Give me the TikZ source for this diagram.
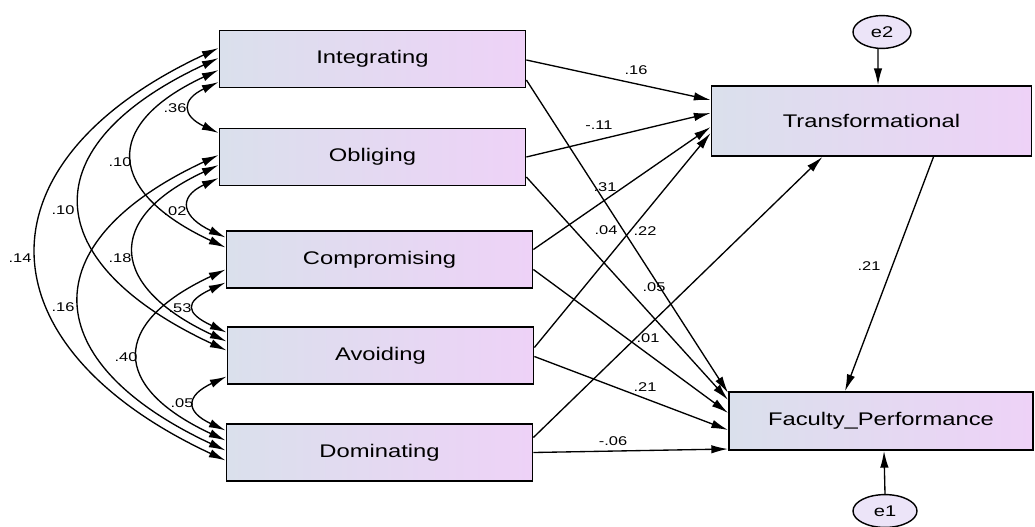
\documentclass[tikz,border=0pt]{standalone}
\usepackage{fontspec}
\setmainfont{Liberation Sans}[FakeStretch=1.3]
\usetikzlibrary{arrows.meta,shapes.geometric}
\definecolor{boxleft}{RGB}{218,224,236}
\definecolor{boxright}{RGB}{238,210,247}
\definecolor{errfill}{RGB}{236,228,248}

\begin{document}
\begin{tikzpicture}[x=0.025cm,y=-0.025cm,
    obsvar/.style={draw, line width=1.2pt, left color=boxleft, right color=boxright,
      minimum width=7.65cm, minimum height=1.42cm, inner sep=0pt,
      font=\fontsize{13}{15}\selectfont},
    err/.style={draw, ellipse, line width=1pt, fill=errfill, minimum width=1.45cm,
      minimum height=0.82cm, inner sep=0pt, font=\fontsize{11}{13}\selectfont},
    reg/.style={line width=0.95pt, -{Latex[length=4.2mm,width=2.1mm]}},
    cov/.style={line width=0.95pt,
      {Latex[length=4.2mm,width=2.1mm]}-{Latex[length=4.2mm,width=2.1mm]},
      out=205, in=155, looseness=#1},
    wt/.style={inner sep=0pt, font=\fontsize{9}{10}\selectfont}]
  \useasboundingbox (0,0) rectangle (1035,527);

  % Conflict styles (left column)
  \node[obsvar] (integ) at (372.5,59) {Integrating};
  \node[obsvar] (oblig) at (372.5,157) {Obliging};
  \node[obsvar] (compr) at (379.5,259.5) {Compromising};
  \node[obsvar] (avoid) at (380.5,355.5) {Avoiding};
  \node[obsvar] (domin) at (379.5,452.5) {Dominating};

  % Mediator, outcome and errors
  \node[obsvar, minimum width=8cm, minimum height=1.75cm] (trans) at (871.5,121) {Transformational};
  \node[obsvar, minimum width=7.6cm, minimum height=1.45cm] (facul) at (881,421) {Faculty\_Performance};
  \node[err] (e2) at (882,32) {e2};
  \node[err, minimum width=1.6cm] (e1) at (885,511) {e1};

  % Covariances
  \draw[cov=2.06] ([shift={(0,23)}]integ.west) to ([shift={(0,-24)}]oblig.west);
  \draw[cov=1.88] ([shift={(0,11)}]integ.west) to ([shift={(0,-12)}]compr.west);
  \draw[cov=1.82] ([shift={(0,-1)}]integ.west) to ([shift={(0,-5)}]avoid.west);
  \draw[cov=1.68] ([shift={(0,-11)}]integ.west) to ([shift={(0,8)}]domin.west);
  \draw[cov=2.0]  ([shift={(0,21)}]oblig.west) to ([shift={(0,-22)}]compr.west);
  \draw[cov=1.86] ([shift={(0,8)}]oblig.west) to ([shift={(0,-14)}]avoid.west);
  \draw[cov=1.8]  ([shift={(0,-2)}]oblig.west) to ([shift={(0,-2)}]domin.west);
  \draw[cov=2.34] ([shift={(0,23)}]compr.west) to ([shift={(0,-23)}]avoid.west);
  \draw[cov=1.91] ([shift={(0,10)}]compr.west) to ([shift={(0,-12)}]domin.west);
  \draw[cov=2.13] ([shift={(0,21)}]avoid.west) to ([shift={(0,-22)}]domin.west);

  % Paths to Transformational
  \draw[reg] ([shift={(0,1)}]integ.east) -- ([shift={(0,-21)}]trans.west);
  \draw[reg] (oblig.east) -- ([shift={(0,-8)}]trans.west);
  \draw[reg] ([shift={(0,-10)}]compr.east) -- ([shift={(0,6)}]trans.west);
  \draw[reg] ([shift={(0,-8)}]avoid.east) -- ([shift={(0,12)}]trans.west);
  \draw[reg] ([shift={(0,-15)}]domin.east) -- ([shift={(-49,0)}]trans.south);

  % Paths to Faculty_Performance
  \draw[reg] ([shift={(0,21)}]integ.east) -- ([shift={(0,-28)}]facul.west);
  \draw[reg] ([shift={(0,20)}]oblig.east) -- ([shift={(0,-21)}]facul.west);
  \draw[reg] ([shift={(0,10)}]compr.east) -- ([shift={(0,-8)}]facul.west);
  \draw[reg] ([shift={(0,1)}]avoid.east) -- ([shift={(0,9)}]facul.west);
  \draw[reg] (domin.east) -- ([shift={(0,28)}]facul.west);
  \draw[reg] ([shift={(62,0)}]trans.south) -- ([shift={(-36,0)}]facul.north);

  % Error terms
  \draw[reg] ([shift={(-4,0)}]e2.south) -- ([shift={(6.5,0)}]trans.north);
  \draw[reg] (e1.north) -- ([shift={(3,0)}]facul.south);

  % Weights
  \node[wt] (wit) at (636,70) {.16};
  \node[wt] (wot) at (599,125) {-.11};
  \node[wt] (wct) at (605,187) {.31};
  \node[wt] (wat) at (606,230) {.04};
  \node[wt] (wif) at (645,231) {.22};
  \node[wt] (wof) at (654,287) {.05};
  \node[wt] (wcf) at (648,338) {.01};
  \node[wt] (waf) at (645,387) {.21};
  \node[wt] (wdf) at (613,441) {-.06};
  \node[wt] (wtf) at (869,266) {.21};

  % Correlations
  \node[wt] (rio) at (175,108) {.36};
  \node[wt] (ric) at (120,162) {.10};
  \node[wt] (ria) at (63,210) {.10};
  \node[wt] (rid) at (20,258) {.14};
  \node[wt] (roc) at (175,211) {.02};
  \node[wt] (roa) at (120,258) {.18};
  \node[wt] (rod) at (63,307) {.16};
  \node[wt] (rca) at (180,308) {.53};
  \node[wt] (rcd) at (126,357) {.40};
  \node[wt] (rad) at (182,403) {.05};
\end{tikzpicture}
\end{document}
